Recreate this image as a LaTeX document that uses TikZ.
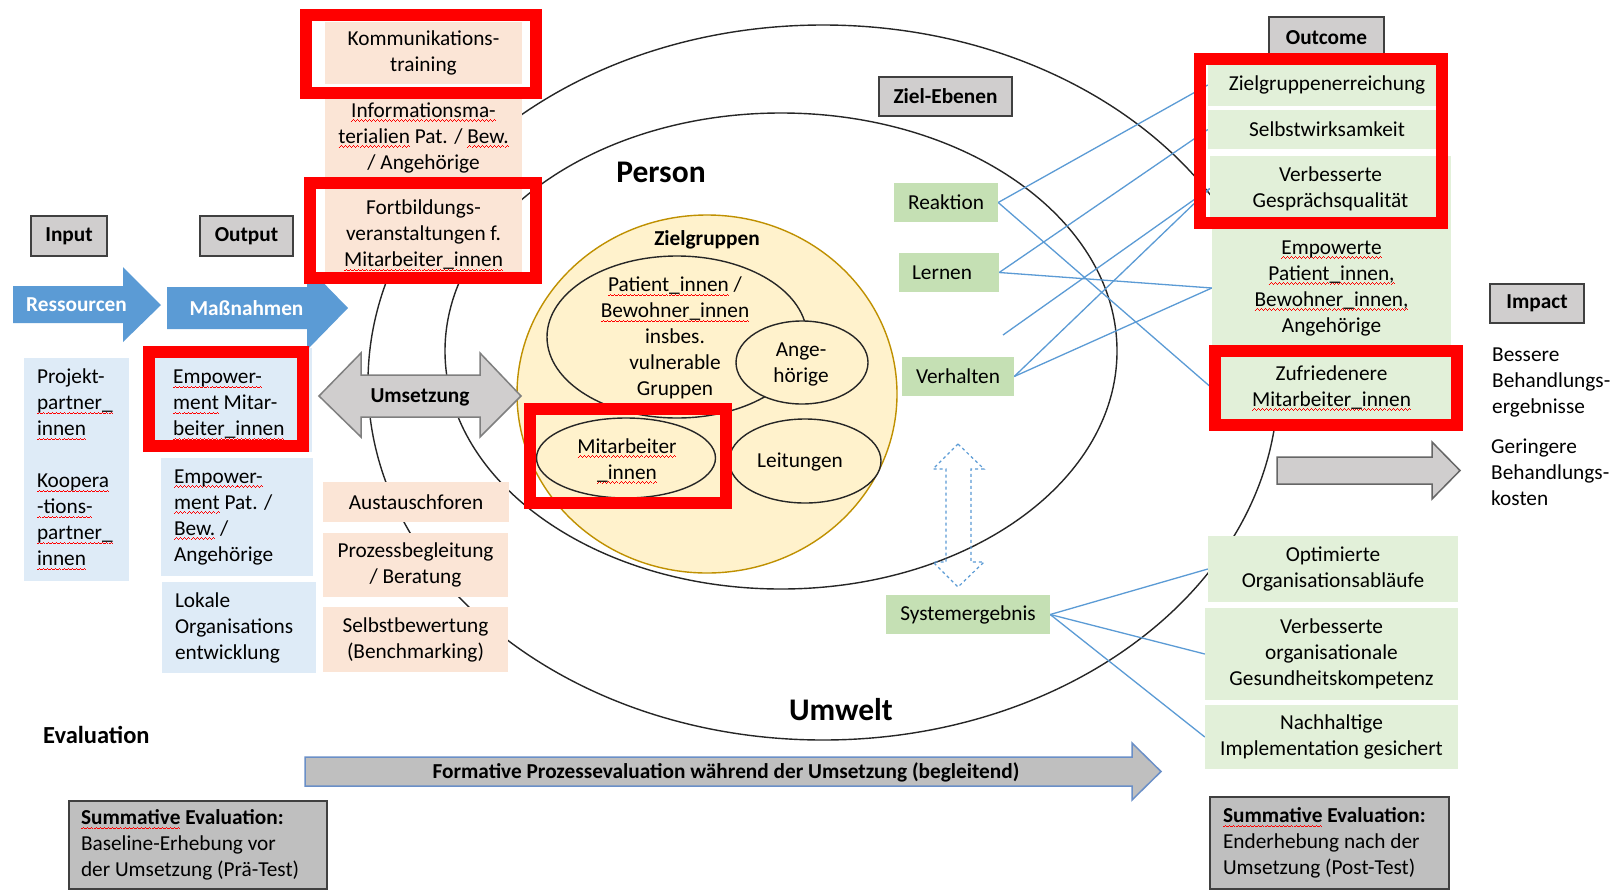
\documentclass[tikz,border=0pt]{standalone}
\usepackage{fontspec}
\setmainfont{Carlito}
\usetikzlibrary{calc}
\pgfdeclarelayer{bg}
\pgfsetlayers{bg,main}
\definecolor{peach}{HTML}{FBE5D6}
\definecolor{lblue}{HTML}{DEEBF7}
\definecolor{gD}{HTML}{C5E0B4}
\definecolor{gL}{HTML}{E2F0D9}
\definecolor{lab}{HTML}{D0CECE}
\definecolor{labline}{HTML}{404040}
\definecolor{sumg}{HTML}{BFBFBF}
\definecolor{yel}{HTML}{FFF2CC}
\definecolor{gold}{HTML}{BF9000}
\definecolor{blu}{HTML}{5B9BD5}
\definecolor{ellc}{HTML}{262626}
\definecolor{formb}{HTML}{6A8FC7}
\definecolor{umsb}{HTML}{7F7F7F}
% red spell-check wave drawn with rules
\newcommand\wavebit{\rule[-4.6pt]{1pt}{0.9pt}\rule[-3.9pt]{1pt}{0.9pt}\rule[-3.2pt]{1pt}{0.9pt}\rule[-3.9pt]{1pt}{0.9pt}}
\newcommand\wsq[1]{\leavevmode\begingroup\setbox0\hbox{#1}\rlap{\color{red}\hbox to \wd0{\xleaders\hbox{\wavebit}\hfil}}\box0\endgroup}
\newcommand\fs{\fontsize{21.3}{26}\selectfont}
\tikzset{
  txt/.style={font=\fs, inner sep=0pt, align=flush center},
  ltxt/.style={font=\fs, inner sep=0pt, align=flush left},
  boxbase/.style={font=\fs, inner ysep=0pt, inner xsep=2pt, align=flush center, draw=none},
  peachbox/.style={boxbase, fill=peach},
  bluebox/.style={boxbase, fill=lblue},
  gdbox/.style={boxbase, fill=gD},
  glbox/.style={boxbase, fill=gL},
  labbox/.style={boxbase, fill=lab, draw=labline, line width=1.8pt, font=\fs\bfseries},
  sumbox/.style={boxbase, fill=sumg, draw=labline, line width=1.8pt, align=flush left},
  redframe/.style={draw=red, line width=12pt},
  ell/.style={draw=ellc, line width=1.4pt},
  bline/.style={draw=blu, line width=1.3pt},
  bigword/.style={font=\fontsize{31.5}{36}\selectfont\bfseries, inner sep=0pt},
}
\begin{document}
\begin{tikzpicture}[x=1pt,y=-1pt]
\useasboundingbox (0,0) rectangle (1613,889);

% ---------- boxes (main layer) ----------
\node[peachbox, minimum width=197pt, minimum height=62pt] (komm) at (423.5,53) {Kommunikations-\\training};
\node[peachbox, minimum width=197pt, minimum height=91pt] (info) at (423.5,137.5) {\wsq{Informationsma-}\\\wsq{terialien} Pat. / \wsq{Bew.}\\/ Angehörige};
\node[peachbox, minimum width=197pt, minimum height=95pt] (fortb) at (423.5,235.5) {Fortbildungs-\\veranstaltungen f.\\\wsq{Mitarbeiter\_innen}};
\node[peachbox, minimum width=186pt, minimum height=40pt] (aust) at (416,502) {Austauschforen};
\node[peachbox, minimum width=185pt, minimum height=64pt] (proz) at (415.5,565) {Prozessbegleitung\\/ Beratung};
\node[peachbox, minimum width=185pt, minimum height=65pt] (selbst) at (415.5,639.5) {Selbstbewertung\\(Benchmarking)};

\node[bluebox, minimum width=105pt, minimum height=223pt, text width=79pt, inner xsep=13pt, align=flush left] (proj) at (76.5,469.5)
  {Projekt-\\\wsq{partner\_}\\\wsq{innen}\\[26pt]\wsq{Koopera}\\\wsq{-tions-}\\\wsq{partner\_}\\\wsq{innen}};
\node[bluebox, minimum width=165pt, minimum height=104pt] (empmitbox) at (229.5,400) {};
\node[ltxt, anchor=west] (empmit) at (173,405) {\wsq{Empower-}\\\wsq{ment} Mitar-\\\wsq{beiter\_innen}};
\node[bluebox, minimum width=152pt, minimum height=118pt, text width=126pt, inner xsep=13pt, align=flush left] (emppat) at (237,517)
  {\wsq{Empower-}\\\wsq{ment} Pat. /\\\wsq{Bew.} /\\Angehörige};
\node[bluebox, minimum width=154pt, minimum height=91pt, text width=128pt, inner xsep=13pt, align=flush left] (lokale) at (239,627.5)
  {Lokale\\Organisations\\entwicklung};

\node[labbox, minimum width=76pt, minimum height=40pt] (input) at (69,236) {Input};
\node[labbox, minimum width=93pt, minimum height=40pt] (output) at (246.5,236) {Output};
\node[labbox, minimum width=133pt, minimum height=39pt] (zielebenen) at (945.5,96.5) {Ziel-Ebenen};
\node[labbox, minimum width=115pt, minimum height=41pt] (outcome) at (1326.5,37.5) {Outcome};
\node[labbox, minimum width=94pt, minimum height=39pt] (impact) at (1537,303.5) {Impact};

\node[gdbox, minimum width=104pt, minimum height=39pt] (reaktion) at (946,202.5) {Reaktion};
\node[gdbox, minimum width=100pt, minimum height=39pt, text width=74pt, inner xsep=13pt, align=flush left] (lernen) at (949,272.5) {Lernen};
\node[gdbox, minimum width=112pt, minimum height=39pt] (verhalten) at (958,376.5) {Verhalten};
\node[gdbox, minimum width=164pt, minimum height=39pt] (systemerg) at (968,614.5) {Systemergebnis};

\node[glbox, minimum width=238pt, minimum height=41pt] (zielg) at (1327,85) {Zielgruppenerreichung};
\node[glbox, minimum width=238pt, minimum height=39pt] (selbstw) at (1327,129.5) {Selbstwirksamkeit};
\node[glbox, minimum width=241pt, minimum height=65pt] (gespr) at (1330.5,188.5) {Verbesserte\\Gesprächsqualität};
\node[glbox, minimum width=239pt, minimum height=134pt] (empw) at (1331.5,288)
  {\wsq{Empowerte}\\\wsq{Patient\_innen,}\\\wsq{Bewohner\_innen,}\\Angehörige};
\node[glbox, minimum width=239pt, minimum height=74pt] (zufr) at (1331.5,388) {Zufriedenere\\\wsq{Mitarbeiter\_innen}};
\node[glbox, minimum width=250pt, minimum height=66pt] (optim) at (1333,569) {Optimierte\\Organisationsabläufe};
\node[glbox, minimum width=253pt, minimum height=92pt] (verborg) at (1331.5,654) {Verbesserte\\organisationale\\Gesundheitskompetenz};
\node[glbox, minimum width=253pt, minimum height=64pt] (nachh) at (1331.5,737) {Nachhaltige\\Implementation gesichert};

\node[sumbox, minimum width=258pt, minimum height=88pt, text width=234pt, inner xsep=12pt] (suml) at (198,845)
  {\textbf{\wsq{Summative} Evaluation:}\\Baseline-Erhebung vor\\der Umsetzung (Prä-Test)};
\node[sumbox, minimum width=239pt, minimum height=92pt, text width=213pt, inner xsep=13pt] (sumr) at (1329.5,843)
  {\textbf{\wsq{Summative} Evaluation:}\\Enderhebung nach der\\Umsetzung (Post-Test)};

\coordinate (dang) at (1003,335);

\begin{pgfonlayer}{bg}
  \fill[white] (0,0) rectangle (1613,889);
  \draw[ell] (823,382.5) ellipse [x radius=455pt, y radius=357.5pt];
  \draw[ell] (781,351) ellipse [x radius=336pt, y radius=238pt];
  \draw[bline] (reaktion.east) -- (zielg.west);
  \draw[bline] (reaktion.east) -- (zufr.west);
  \draw[bline] (lernen.east) -- (selbstw.west);
  \draw[bline] (lernen.east) -- (empw.west);
  \draw[bline] (dang) -- (gespr.west);
  \draw[bline] (verhalten.east) -- (gespr.west);
  \draw[bline] (verhalten.east) -- (empw.west);
  \draw[bline] (systemerg.east) -- (optim.west);
  \draw[bline] (systemerg.east) -- (verborg.west);
  \draw[bline] (systemerg.east) -- (nachh.west);
\end{pgfonlayer}

\fill[yel] (707,394) ellipse [x radius=190pt, y radius=179pt];
\draw[gold, line width=1.4pt] (707,394) ellipse [x radius=190pt, y radius=179pt];
\draw[ell] (677,337) ellipse [x radius=130pt, y radius=81pt];
\draw[ell, fill=yel] (802,362.5) ellipse [x radius=66pt, y radius=41.5pt];
\draw[ell] (626,458) ellipse [x radius=89.5pt, y radius=40pt];
\draw[ell, fill=yel] (805,461) ellipse [x radius=76pt, y radius=42pt];
\node[font=\fs\bfseries, inner sep=0pt] (zielgruppen) at (707,240) {Zielgruppen};
\node[txt] (pattxt) at (675,338) {\wsq{Patient\_innen} /\\\wsq{Bewohner\_innen}\\insbes.\\vulnerable\\Gruppen};
\node[txt] (angtxt) at (801,364.5) {Ange-\\hörige};
\node[txt] (mittxt) at (627,461) {\wsq{Mitarbeiter}\\\wsq{\_innen}};
\node[txt] (leittxt) at (800,462) {Leitungen};

\fill[blu] (13,286) -- (123,286) -- (123,267) -- (161,305) -- (123,342) -- (123,323) -- (13,323) -- cycle;
\node[font=\fs\bfseries, text=white, inner sep=0pt] (ress) at (76.5,305) {Ressourcen};
\fill[blu] (167,287) -- (307,287) -- (307,266) -- (348,308) -- (307,350) -- (307,329) -- (167,329) -- cycle;
\node[font=\fs\bfseries, text=white, inner sep=0pt] (massn) at (246.5,308) {Maßnahmen};
\draw[umsb, fill=lab, line width=1.5pt] (319,396) -- (361,353) -- (361,375) -- (480,375) -- (480,353) -- (521,396)
  -- (480,437) -- (480,417) -- (361,417) -- (361,437) -- cycle;
\node[font=\fs\bfseries, inner sep=0pt] (umsetz) at (420,397) {Umsetzung};
\draw[labline!80, fill=lab, line width=1.5pt] (1277,457) -- (1432,457) -- (1432,442) -- (1460,470.5) -- (1432,499)
  -- (1432,484) -- (1277,484) -- cycle;
\draw[formb, fill=sumg, line width=1.5pt] (305,757) -- (1132,757) -- (1132,743) -- (1161,771.5) -- (1132,800)
  -- (1132,786) -- (305,786) -- cycle;
\node[font=\fs\bfseries, inner sep=0pt] (formtxt) at (726,772) {Formative Prozessevaluation während der Umsetzung (begleitend)};
\draw[blu, dashed, line width=1.2pt] (958,444) -- (984,469) -- (971,469) -- (971,562) -- (984,562) -- (958,587)
  -- (933,562) -- (946,562) -- (946,469) -- (933,469) -- cycle;

\node[bigword] (person) at (661,172) {Person};
\node[bigword] (umwelt) at (841,710) {Umwelt};
\node[font=\fontsize{24.5}{28}\selectfont\bfseries, inner sep=0pt, anchor=west] (evaluation) at (43,735) {Evaluation};
\node[ltxt, anchor=west] (bessere) at (1492,382) {Bessere\\Behandlungs-\\ergebnisse};
\node[ltxt, anchor=west] (geringere) at (1491,472) {Geringere\\Behandlungs-\\kosten};

\draw[redframe] (306,15) rectangle (536,93);
\draw[redframe] (310,183) rectangle (536,278);
\draw[redframe] (148.5,352) rectangle (303,446);
\draw[redframe] (530,409) rectangle (726,503);
\draw[redframe] (1200,59) rectangle (1442,223);
\draw[redframe] (1215,351) rectangle (1457,425);
\end{tikzpicture}
\end{document}
